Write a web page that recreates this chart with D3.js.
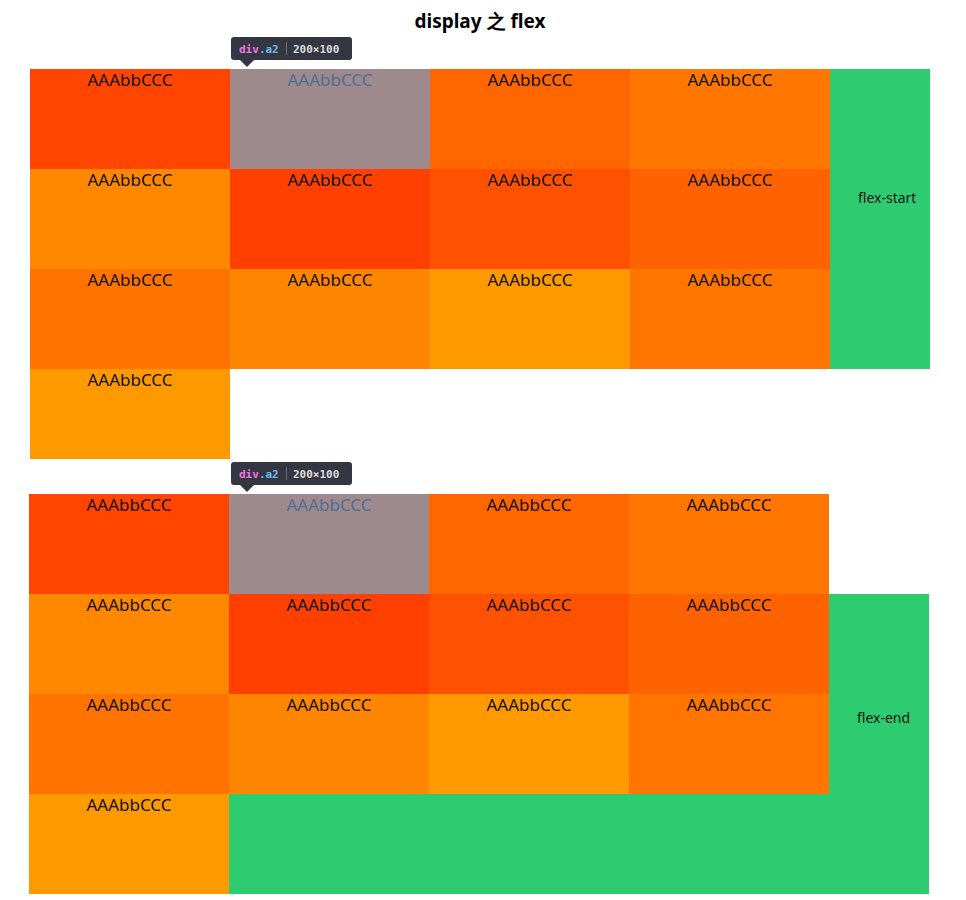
<!DOCTYPE html>
<html>
<head>
<meta charset="utf-8">
<script src="https://cdn.jsdelivr.net/npm/d3@7"></script>
<style>
  body { margin: 0; background: #fff; }
  svg text { font-family: "Noto Sans", "Open Sans", sans-serif; }
</style>
</head>
<body>
<div id="chart"></div>
<script>
// cell label and colours, row by row (4 columns)
var cellLabel = "AAAbbCCC";
var cellColors = [
    "#ff4500", "#9e898d", "#ff6600", "#ff7700",
    "#ff8800", "#ff4000", "#ff5200", "#ff6200",
    "#ff7300", "#ff8600", "#ff9900", "#ff7500",
    "#ff9900"
];
var highlighted = 1; // div.a2
var panelNames = ["flex-start", "flex-end"];
var tipTag = "div", tipClass = ".a2", tipSize = "200×100";

var w = 966, h = 900,
    cellW = 200, cellH = 100;

var svg = d3.select("#chart").append("svg")
    .attr("width", w)
    .attr("height", h);

svg.append("text")
    .text("display 之 flex")
    .attr("x", 480)
    .attr("y", 28)
    .style("text-anchor", "middle")
    .style("font-size", "19px")
    .style("font-weight", "bold")
    .style("fill", "#000");

var cells = cellColors.map(function(c, i){
    return {color: c, col: i % 4, row: Math.floor(i / 4), i: i};
});

// green item is half a column wide
var panels = [
    {name: panelNames[0], x: 30, y: 69, lastRowH: 90,
        green: [{c0: 4, c1: 4.5, r0: 0, r1: 3}], labelY: 203},
    {name: panelNames[1], x: 29, y: 494, lastRowH: 100,
        green: [{c0: 4, c1: 4.5, r0: 1, r1: 3}, {c0: 1, c1: 4.5, r0: 3, r1: 4}], labelY: 723}
];

panels.forEach(function(p){
    var x = d3.scaleLinear().domain([0, 5]).range([p.x, p.x + 5 * cellW]);
    var y = d3.scaleLinear().domain([0, 4]).range([p.y, p.y + 4 * cellH]);

    var g = svg.append("g").attr("class", "panel");

    g.selectAll(".green").data(p.green).enter()
        .append("rect")
        .attr("class", "green")
        .attr("x", function(d){ return x(d.c0); })
        .attr("y", function(d){ return y(d.r0); })
        .attr("width", function(d){ return x(d.c1) - x(d.c0); })
        .attr("height", function(d){ return y(d.r1) - y(d.r0); })
        .style("fill", "#2ecc71");

    g.append("text")
        .text(p.name)
        .attr("x", x(4) + 28)
        .attr("y", p.labelY)
        .style("font-size", "14px")
        .style("fill", "#111");

    g.selectAll(".cell").data(cells).enter()
        .append("rect")
        .attr("class", "cell")
        .attr("x", function(d){ return x(d.col); })
        .attr("y", function(d){ return y(d.row); })
        .attr("width", cellW)
        .attr("height", function(d){ return d.row == 3 ? p.lastRowH : cellH; })
        .style("fill", function(d){ return d.color; });

    g.selectAll(".cellText").data(cells).enter()
        .append("text")
        .attr("class", "cellText")
        .text(cellLabel)
        .attr("x", function(d){ return x(d.col + 0.5); })
        .attr("y", function(d){ return y(d.row) + 17; })
        .style("text-anchor", "middle")
        .style("font-size", "17px")
        .style("fill", function(d){ return d.i == highlighted ? "#4d6f93" : "#111"; });

    // devtools style tooltip over div.a2
    var ty = y(0) - 32;
    var tip = g.append("g").attr("transform", "translate(231," + ty + ")");
    tip.append("rect")
        .attr("width", 121)
        .attr("height", 23)
        .attr("rx", 3)
        .style("fill", "#343741");
    tip.append("path")
        .attr("d", "M9,23 L16,30 L23,23 Z")
        .style("fill", "#343741");
    var t = tip.append("text")
        .attr("x", 8)
        .attr("y", 15.5)
        .style("font-family", "'DejaVu Sans Mono', monospace")
        .style("font-size", "11px")
        .style("font-weight", "bold");
    t.append("tspan").text(tipTag).style("fill", "#ee78e6");
    t.append("tspan").text(tipClass).style("fill", "#6fb8ea");
    tip.append("line")
        .attr("x1", 55.5).attr("x2", 55.5)
        .attr("y1", 5).attr("y2", 18)
        .style("stroke", "#6c6f78");
    tip.append("text")
        .text(tipSize)
        .attr("x", 62)
        .attr("y", 15.5)
        .style("font-family", "'DejaVu Sans Mono', monospace")
        .style("font-size", "11px")
        .style("font-weight", "bold")
        .style("fill", "#dcdcdc");
});
</script>
</body>
</html>
